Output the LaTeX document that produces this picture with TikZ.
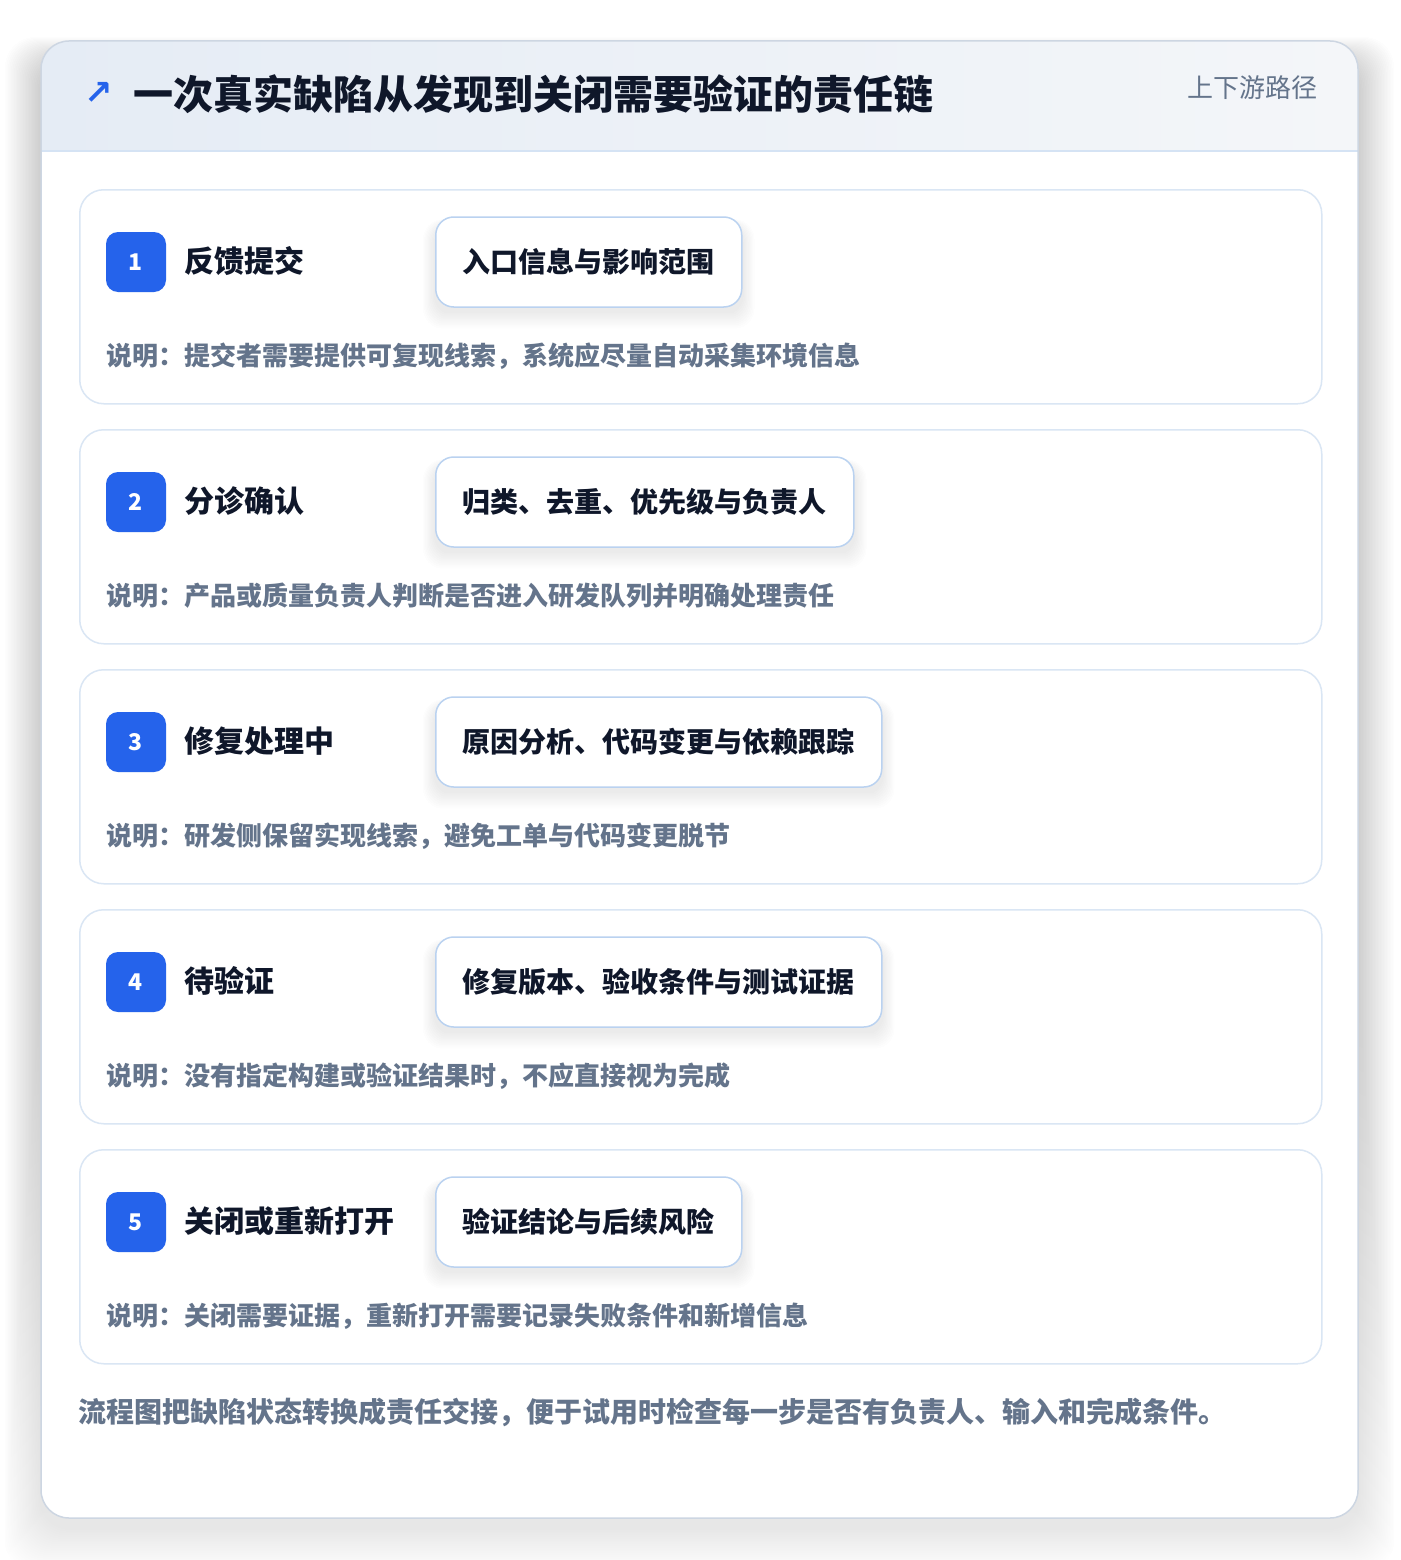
\documentclass[tikz,border=0pt]{standalone}
\usepackage{fontspec}
\setmainfont{Noto Sans CJK SC}
\newfontfamily\symfont{DejaVu Sans}
\definecolor{pagebg}{HTML}{FFFFFF}
\definecolor{cardline}{HTML}{CDD6E2}
\definecolor{hdleft}{HTML}{E5ECF5}
\definecolor{hdright}{HTML}{F4F6F9}
\definecolor{hdline}{HTML}{D5E3F4}
\definecolor{stepline}{HTML}{DAE6F4}
\definecolor{tagline}{HTML}{BAD2F0}
\definecolor{accent}{HTML}{2563EB}
\definecolor{ink}{HTML}{0F172A}
\definecolor{muted}{HTML}{64748B}
\definecolor{shade}{HTML}{1E293B}
\pgfdeclarelayer{backdrop}
\pgfdeclarelayer{cardlayer}
\pgfdeclarelayer{shadelayer}
\pgfsetlayers{backdrop,cardlayer,shadelayer,main}
\tikzset{
  stepcard/.style={draw=stepline, line width=1.5pt, fill=white, rounded corners=24pt,
    minimum width=1242pt, minimum height=214pt, anchor=north west, inner sep=0pt},
  badge/.style={fill=accent, text=white, rounded corners=12pt, minimum size=60pt,
    inner sep=0pt, font=\fontsize{23}{26}\selectfont\bfseries},
  steptitle/.style={text=ink, inner sep=0pt, anchor=west, font=\fontsize{30}{36}\selectfont\bfseries},
  tagbox/.style={draw=tagline, line width=1.5pt, fill=white, rounded corners=18pt,
    minimum height=90pt, inner xsep=27pt, anchor=west, text=ink,
    font=\fontsize{28}{34}\selectfont\bfseries},
  notetext/.style={text=muted, inner sep=0pt, anchor=west, font=\fontsize{26}{32}\selectfont\bfseries}
}
\begin{document}
\begin{tikzpicture}[x=1pt, y=-1pt]
  \useasboundingbox (0,0) rectangle (1400,1560);
  \begin{pgfonlayer}{backdrop}
    \fill[pagebg] (0,0) rectangle (1400,1560);
    % soft shadow under the outer card
    \foreach \k in {1,...,24}
      \fill[shade, opacity=0.0026, rounded corners=30pt]
        (41-1.5*\k,41+20-1.0*\k) rectangle (1358+1.5*\k,1518+10+1.8*\k);
    % outer card
    \fill[white, rounded corners=28pt] (41,41) rectangle (1358,1518);
    \begin{scope}
      \clip[rounded corners=28pt] (41,41) rectangle (1358,1518);
      \shade[left color=hdleft, right color=hdright] (41,41) rectangle (1358,151);
      \draw[hdline, line width=1.5pt] (41,151) -- (1358,151);
    \end{scope}
    \draw[cardline, line width=1.5pt, rounded corners=28pt] (41,41) rectangle (1358,1518);
  \end{pgfonlayer}
  % header
  \node[text=accent, inner sep=0pt, font=\symfont\fontsize{34}{38}\selectfont\bfseries] (arrow) at (99,93) {↗};
  \node[text=ink, inner sep=0pt, anchor=west, font=\fontsize{40}{48}\selectfont\bfseries] (heading) at (133,94)
    {一次真实缺陷从发现到关闭需要验证的责任链};
  \node[text=muted, inner sep=0pt, anchor=east, font=\fontsize{26}{32}\selectfont] (scopetag) at (1318,88) {上下游路径};
  % steps
  \foreach \i/\name/\tag/\note in {
    1/反馈提交/入口信息与影响范围/提交者需要提供可复现线索，系统应尽量自动采集环境信息,
    2/分诊确认/归类、去重、优先级与负责人/产品或质量负责人判断是否进入研发队列并明确处理责任,
    3/修复处理中/原因分析、代码变更与依赖跟踪/研发侧保留实现线索，避免工单与代码变更脱节,
    4/待验证/修复版本、验收条件与测试证据/没有指定构建或验证结果时，不应直接视为完成,
    5/关闭或重新打开/验证结论与后续风险/关闭需要证据，重新打开需要记录失败条件和新增信息}
  {
    \pgfmathsetmacro{\ytop}{189+240*(\i-1)}
    \begin{pgfonlayer}{cardlayer}
      \node[stepcard] (card\i) at (79,\ytop) {};
    \end{pgfonlayer}
    \node[badge] (badge\i) at (136,\ytop+73) {\i};
    \node[steptitle] (title\i) at (184,\ytop+72) {\name};
    \node[tagbox] (tag\i) at (435,\ytop+73) {\tag};
    \node[notetext] (note\i) at (106,\ytop+167) {说明：\note};
    \begin{pgfonlayer}{shadelayer}
      \foreach \k in {1,...,10}
        \fill[shade, opacity=0.0035, rounded corners=20pt]
          ([xshift=-1.2*\k pt, yshift=-8pt+0.5*\k pt]tag\i.north west)
          rectangle ([xshift=1.2*\k pt, yshift=-6pt-1.5*\k pt]tag\i.south east);
    \end{pgfonlayer}
  }
  % footer
  \node[text=muted, inner sep=0pt, anchor=west, font=\fontsize{28}{34}\selectfont\bfseries] (summary) at (78,1412)
    {流程图把缺陷状态转换成责任交接，便于试用时检查每一步是否有负责人、输入和完成条件。};
\end{tikzpicture}
\end{document}
